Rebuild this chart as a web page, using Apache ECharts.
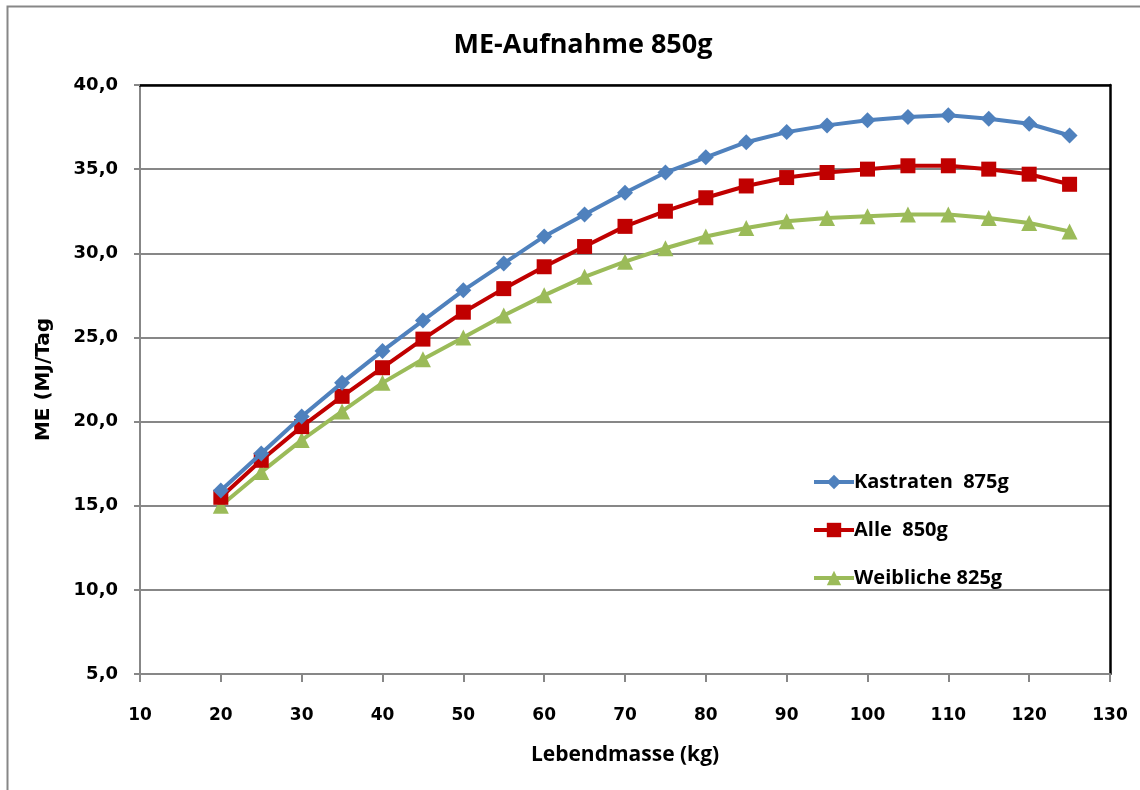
<!DOCTYPE html>
<html>
<head>
<meta charset="utf-8">
<title>ME-Aufnahme 850g</title>
<script src="https://cdn.jsdelivr.net/npm/echarts@6/dist/echarts.min.js"></script>
<style>
    html, body { margin: 0; padding: 0; background: #fff; }
    #main { width: 1140px; height: 790px; }
</style>
</head>
<body>
<div id="main"></div>
<script>
// Lebendmasse (kg)
var masse = [20, 25, 30, 35, 40, 45, 50, 55, 60, 65, 70, 75, 80, 85, 90, 95, 100, 105, 110, 115, 120, 125];
// ME (MJ/Tag)
var kastraten = [15.9, 18.1, 20.3, 22.3, 24.2, 26.0, 27.8, 29.4, 31.0, 32.3, 33.6, 34.8, 35.7, 36.6, 37.2, 37.6, 37.9, 38.1, 38.2, 38.0, 37.7, 37.0];
var alle = [15.5, 17.7, 19.7, 21.5, 23.2, 24.9, 26.5, 27.9, 29.2, 30.4, 31.6, 32.5, 33.3, 34.0, 34.5, 34.8, 35.0, 35.2, 35.2, 35.0, 34.7, 34.1];
var weibliche = [15.0, 17.0, 18.9, 20.6, 22.3, 23.7, 25.0, 26.3, 27.5, 28.6, 29.5, 30.3, 31.0, 31.5, 31.9, 32.1, 32.2, 32.3, 32.3, 32.1, 31.8, 31.3];
var seriesNames = ['Kastraten  875g', 'Alle  850g', 'Weibliche 825g'];

function pairs(ys) {
    return masse.map(function (x, i) { return [x, ys[i]]; });
}

var chart = echarts.init(document.getElementById('main'));
var gray = '#878787';

option = {
    backgroundColor: '#fff',
    title: {
        text: 'ME-Aufnahme 850g',
        left: 578,
        top: 27,
        textAlign: 'center',
        textStyle: {
            fontFamily: 'Open Sans',
            fontWeight: 'bold',
            fontSize: 27,
            color: '#000'
        }
    },
    // Rahmen um das ganze Diagramm
    graphic: [{
        type: 'rect',
        shape: { x: 7.5, y: 6.5, width: 1140, height: 790 },
        style: { fill: 'none', stroke: gray, lineWidth: 2 },
        silent: true
    }],
    legend: {
        orient: 'vertical',
        left: 807,
        top: 465,
        itemWidth: 40,
        itemHeight: 18,
        itemGap: 24,
        data: seriesNames,
        lineStyle: { width: 4 },
        textStyle: {
            fontFamily: 'Open Sans',
            fontWeight: 'bold',
            fontSize: 20,
            lineHeight: 24,
            color: '#000',
            padding: [0, 0, 0, -5]
        }
    },
    grid: {
        left: 140,
        right: 30,
        top: 85,
        bottom: 116,
        show: false
    },
    xAxis: [{
        type: 'value',
        min: 10,
        max: 130,
        interval: 10,
        name: 'Lebendmasse (kg)',
        nameLocation: 'middle',
        nameGap: 71,
        nameTextStyle: {
            fontFamily: 'Open Sans',
            fontWeight: 'bold',
            fontSize: 21,
            color: '#000'
        },
        axisLine: { lineStyle: { color: gray, width: 2 } },
        axisTick: { length: 8, lineStyle: { color: gray, width: 2 } },
        axisLabel: {
            margin: 33,
            fontFamily: 'DejaVu Sans',
            fontWeight: 'bold',
            fontSize: 17,
            color: '#000'
        },
        splitLine: { show: false }
    }, {
        // schwarze obere Kante
        type: 'value',
        position: 'top',
        min: 10,
        max: 130,
        axisLine: { lineStyle: { color: '#000', width: 2.5 } },
        axisTick: { show: false },
        axisLabel: { show: false },
        splitLine: { show: false }
    }],
    yAxis: [{
        type: 'value',
        min: 5,
        max: 40,
        interval: 5,
        name: 'ME (MJ/Tag',
        nameLocation: 'middle',
        nameGap: 86,
        nameTextStyle: {
            fontFamily: 'DejaVu Sans',
            fontWeight: 'bold',
            fontSize: 20,
            color: '#000'
        },
        axisLine: { show: true, lineStyle: { color: gray, width: 2 } },
        axisTick: { show: true, length: 6, lineStyle: { color: gray, width: 2 } },
        axisLabel: {
            margin: 22,
            fontFamily: 'DejaVu Sans',
            fontWeight: 'bold',
            fontSize: 18,
            color: '#000',
            formatter: function (v) { return v.toFixed(1).replace('.', ','); }
        },
        splitLine: { lineStyle: { color: gray, width: 2 } }
    }, {
        // schwarze rechte Kante
        type: 'value',
        position: 'right',
        min: 5,
        max: 40,
        axisLine: { show: true, lineStyle: { color: '#000', width: 2.5 } },
        axisTick: { show: false },
        axisLabel: { show: false },
        splitLine: { show: false }
    }],
    series: [{
        name: seriesNames[0],
        type: 'line',
        data: pairs(kastraten),
        symbol: 'diamond',
        symbolSize: 16,
        lineStyle: { color: '#4F81BD', width: 4 },
        itemStyle: { color: '#4F81BD' },
        z: 4
    }, {
        name: seriesNames[1],
        type: 'line',
        data: pairs(alle),
        symbol: 'rect',
        symbolSize: 15,
        lineStyle: { color: '#C00000', width: 4 },
        itemStyle: { color: '#C00000' },
        z: 3
    }, {
        name: seriesNames[2],
        type: 'line',
        data: pairs(weibliche),
        symbol: 'triangle',
        symbolSize: 16,
        lineStyle: { color: '#9BBB59', width: 4 },
        itemStyle: { color: '#9BBB59' },
        z: 2
    }]
};
chart.setOption(option);
</script>
</body>
</html>
